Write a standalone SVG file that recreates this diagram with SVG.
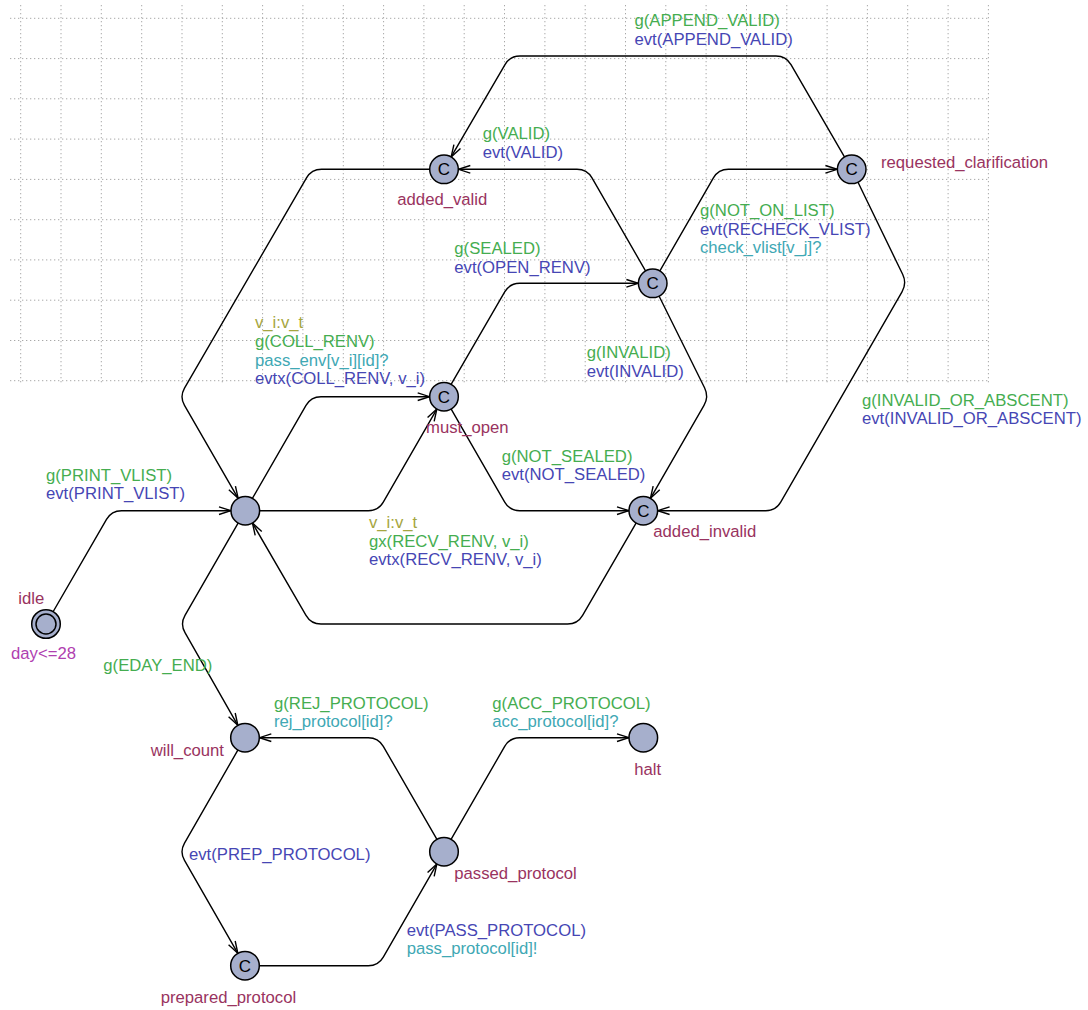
<svg xmlns="http://www.w3.org/2000/svg" width="1088" height="1010" viewBox="0 0 1088 1010">
<style>
text{font-family:"Liberation Sans",Arial,Helvetica,sans-serif;font-size:16.7px}
.name{fill:#993360}
.inv{fill:#b040b0}
.g{fill:#45ad50}
.s{fill:#40a8b4}
.u{fill:#4646b4}
.sel{fill:#a6a640}
.c{fill:#000;text-anchor:middle;font-size:17px}
.loc{fill:#a6afcc;stroke:#000;stroke-width:1.5}
.edge{fill:none;stroke:#000;stroke-width:1.4;marker-end:url(#arr)}
.grid{fill:none;stroke:#a8a8a8;stroke-width:1;stroke-dasharray:1.3 2.7}
</style>
<defs>
<marker id="arr" markerUnits="userSpaceOnUse" markerWidth="14" markerHeight="10" viewBox="0 0 14 10" refX="13" refY="5" orient="auto">
<path d="M1,1.2 L13,5 L1,8.8" fill="none" stroke="#000" stroke-width="1.4"/>
</marker>
</defs>
<rect width="1088" height="1010" fill="#fff"/>
<path class="grid" d="M20.7,5V383M61,5V383M101.3,5V383M141.7,5V383M182,5V383M222.3,5V383M262.6,5V383M302.9,5V383M343.3,5V383M383.6,5V383M423.9,5V383M464.2,5V383M504.5,5V383M544.9,5V383M585.2,5V383M625.5,5V383M665.8,5V383M706.1,5V383M746.5,5V383M786.8,5V383M827.1,5V383M867.4,5V383M907.7,5V383M948.1,5V383M988.4,5V383M10,18.3H990M10,58.6H990M10,98.8H990M10,139.1H990M10,179.4H990M10,219.7H990M10,259.9H990M10,300.2H990M10,340.5H990M10,380.7H990"/>
<g id="connectors">
<g id="e-idle-start">
<path class="edge" d="M46,624 L106.5,519.36 Q111.5,510.7 121.5,510.7 L231,510.7"/>
<text class="g" x="46" y="480.7">g(PRINT_VLIST)</text>
<text class="u" x="46" y="499.3">evt(PRINT_VLIST)</text>
</g>
<g id="e-coll">
<path class="edge" d="M245.3,510.7 L306,405.36 Q311,396.7 321,396.7 L429.7,396.7"/>
<text class="sel" x="255" y="328.3">v_i:v_t</text>
<text class="g" x="255" y="347">g(COLL_RENV)</text>
<text class="s" x="255" y="365.5">pass_env[v_i][id]?</text>
<text class="u" x="255" y="384">evtx(COLL_RENV, v_i)</text>
</g>
<g id="e-recv">
<path class="edge" d="M245.3,510.7 L368.3,510.7 Q378.3,510.7 383.3,502.04 L436.85,409.08"/>
<text class="sel" x="369" y="528.3">v_i:v_t</text>
<text class="g" x="369" y="546.7">gx(RECV_RENV, v_i)</text>
<text class="u" x="369" y="565">evtx(RECV_RENV, v_i)</text>
</g>
<g id="e-valid-back">
<path class="edge" d="M444,169.3 L321.5,169.3 Q311.5,169.3 306.5,177.96 L184.5,388.04 Q179.5,396.7 184.5,405.36 L238.15,498.32"/>
</g>
<g id="e-sealed">
<path class="edge" d="M444,396.7 L504.7,291.96 Q509.7,283.3 519.7,283.3 L638.4,283.3"/>
<text class="g" x="454.3" y="254">g(SEALED)</text>
<text class="u" x="454.3" y="272.7">evt(OPEN_RENV)</text>
</g>
<g id="e-notsealed">
<path class="edge" d="M444,396.7 L504.7,502.04 Q509.7,510.7 519.7,510.7 L629,510.7"/>
<text class="g" x="501.7" y="461.7">g(NOT_SEALED)</text>
<text class="u" x="501.7" y="480">evt(NOT_SEALED)</text>
</g>
<g id="e-valid">
<path class="edge" d="M652.7,283.3 L592,177.96 Q587,169.3 577,169.3 L458.3,169.3"/>
<text class="g" x="482.7" y="139.3">g(VALID)</text>
<text class="u" x="482.7" y="158">evt(VALID)</text>
</g>
<g id="e-notonlist">
<path class="edge" d="M652.7,283.3 L713.4,177.96 Q718.4,169.3 728.4,169.3 L837.4,169.3"/>
<text class="g" x="700" y="216">g(NOT_ON_LIST)</text>
<text class="u" x="700" y="234.7">evt(RECHECK_VLIST)</text>
<text class="s" x="700" y="253.3">check_vlist[v_j]?</text>
</g>
<g id="e-invalid">
<path class="edge" d="M652.7,283.3 L704.55,387.74 Q709,396.7 704,405.36 L650.45,498.32"/>
<text class="g" x="586.7" y="358">g(INVALID)</text>
<text class="u" x="586.7" y="376.5">evt(INVALID)</text>
</g>
<g id="e-append">
<path class="edge" d="M851.7,169.3 L791,64.66 Q786,56 776,56 L520,56 Q510,56 505,64.66 L451.15,156.92"/>
<text class="g" x="634.5" y="26">g(APPEND_VALID)</text>
<text class="u" x="634.5" y="44.5">evt(APPEND_VALID)</text>
</g>
<g id="e-absent">
<path class="edge" d="M851.7,169.3 L902.63,274.3 Q907,283.3 902,291.96 L780.7,502.04 Q775.7,510.7 765.7,510.7 L657.6,510.7"/>
<text class="g" x="862" y="406">g(INVALID_OR_ABSCENT)</text>
<text class="u" x="862" y="424.3">evt(INVALID_OR_ABSCENT)</text>
</g>
<g id="e-invalid-back">
<path class="edge" d="M643.3,510.7 L582.6,615.34 Q577.6,624 567.6,624 L321,624 Q311,624 306,615.34 L252.45,523.08"/>
</g>
<g id="e-eday">
<path class="edge" d="M245.3,510.7 L185,615.34 Q180,624 185,632.66 L237.85,725.32"/>
<text class="g" x="103.3" y="670.7">g(EDAY_END)</text>
</g>
<g id="e-prep">
<path class="edge" d="M245,737.7 L184.5,843.04 Q179.5,851.7 184.5,860.36 L237.85,953.32"/>
<text class="u" x="189" y="860">evt(PREP_PROTOCOL)</text>
</g>
<g id="e-pass">
<path class="edge" d="M245,965.7 L368.3,965.7 Q378.3,965.7 383.3,957.04 L436.85,864.08"/>
<text class="u" x="406.7" y="936">evt(PASS_PROTOCOL)</text>
<text class="s" x="406.7" y="954.3">pass_protocol[id]!</text>
</g>
<g id="e-rej">
<path class="edge" d="M444,851.7 L383.3,746.36 Q378.3,737.7 368.3,737.7 L259.3,737.7"/>
<text class="g" x="274" y="709.3">g(REJ_PROTOCOL)</text>
<text class="s" x="274" y="726.7">rej_protocol[id]?</text>
</g>
<g id="e-acc">
<path class="edge" d="M444,851.7 L504.7,746.36 Q509.7,737.7 519.7,737.7 L629,737.7"/>
<text class="g" x="492.3" y="709.3">g(ACC_PROTOCOL)</text>
<text class="s" x="492.3" y="726.7">acc_protocol[id]?</text>
</g>
</g>
<g id="idle">
<circle class="loc" cx="46" cy="624" r="14.3"/>
<circle fill="none" stroke="#000" stroke-width="1.5" cx="46" cy="624" r="10"/>
<text class="name" x="18.3" y="604">idle</text>
<text class="inv" x="11" y="659.3">day&lt;=28</text>
</g>
<g id="start">
<circle class="loc" cx="245.3" cy="510.7" r="14.3"/>
</g>
<g id="must_open">
<circle class="loc" cx="444" cy="396.7" r="14.3"/>
<text class="c" x="444" y="402.7">C</text>
<text class="name" x="426" y="433.3">must_open</text>
</g>
<g id="added_valid">
<circle class="loc" cx="444" cy="169.3" r="14.3"/>
<text class="c" x="444" y="175.3">C</text>
<text class="name" x="397.3" y="205">added_valid</text>
</g>
<g id="checked">
<circle class="loc" cx="652.7" cy="283.3" r="14.3"/>
<text class="c" x="652.7" y="289.3">C</text>
</g>
<g id="requested_clarification">
<circle class="loc" cx="851.7" cy="169.3" r="14.3"/>
<text class="c" x="851.7" y="175.3">C</text>
<text class="name" x="881" y="168.3">requested_clarification</text>
</g>
<g id="added_invalid">
<circle class="loc" cx="643.3" cy="510.7" r="14.3"/>
<text class="c" x="643.3" y="516.7">C</text>
<text class="name" x="653.3" y="537.3">added_invalid</text>
</g>
<g id="will_count">
<circle class="loc" cx="245" cy="737.7" r="14.3"/>
<text class="name" x="150.7" y="756">will_count</text>
</g>
<g id="prepared_protocol">
<circle class="loc" cx="245" cy="965.7" r="14.3"/>
<text class="c" x="245" y="971.7">C</text>
<text class="name" x="160.7" y="1002.7">prepared_protocol</text>
</g>
<g id="passed_protocol">
<circle class="loc" cx="444" cy="851.7" r="14.3"/>
<text class="name" x="454.3" y="879">passed_protocol</text>
</g>
<g id="halt">
<circle class="loc" cx="643.3" cy="737.7" r="14.3"/>
<text class="name" x="634.3" y="775">halt</text>
</g>
</svg>
